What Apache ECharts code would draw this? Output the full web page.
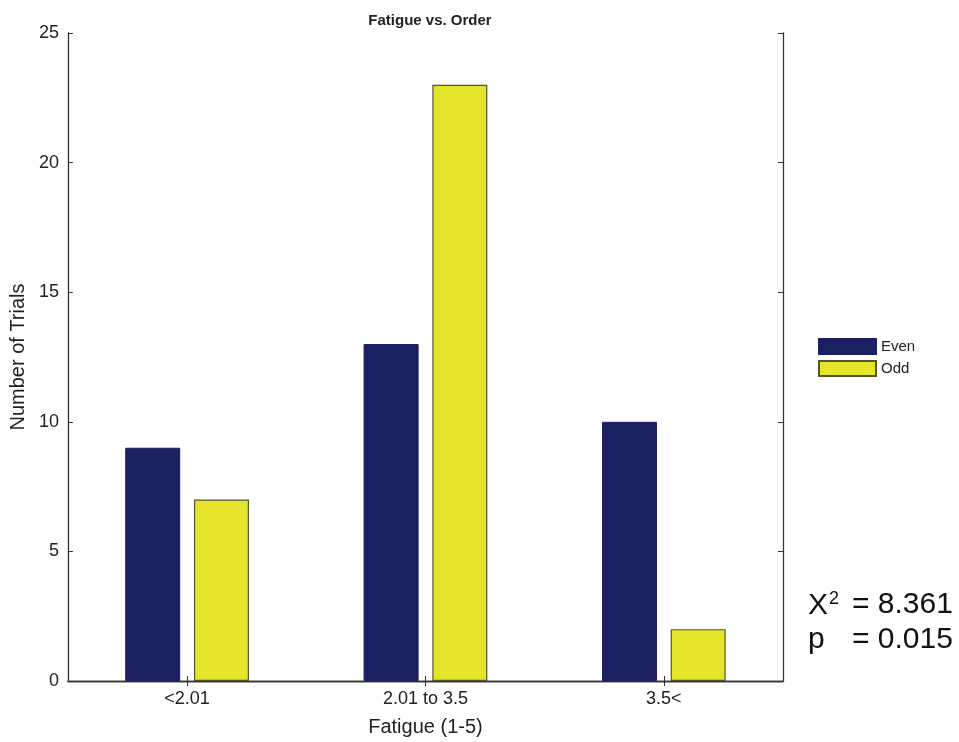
<!DOCTYPE html>
<html>
<head>
<meta charset="utf-8">
<script src="https://cdn.jsdelivr.net/npm/echarts@6/dist/echarts.min.js"></script>
<style>html,body{margin:0;padding:0;background:#fff;}#c{width:959px;height:742px;}</style>
</head>
<body>
<div id="c"></div>
<script>
var categories = ['<2.01', '2.01 to 3.5', '3.5<'];
var evenValues = [9, 13, 10];
var oddValues = [7, 23, 2];
var yTicks = [0, 5, 10, 15, 20, 25];
var seriesNames = ['Even', 'Odd'];
var statLabels = ['X{sup|2}', 'p'];
var statValues = ['= 8.361', '= 0.015'];

var chart = echarts.init(document.getElementById('c'));
var font = 'Liberation Sans, Arial, sans-serif';
var axisLine = {show: true, lineStyle: {color: '#333', width: 1.3}};
var tick = {show: true, inside: true, length: 5, lineStyle: {color: '#333'}};
chart.setOption({
  animation: false,
  title: {text: 'Fatigue vs. Order', left: 425, top: 8, textAlign: 'center',
    textStyle: {fontFamily: font, fontSize: 15, fontWeight: 'bold', color: '#222'}},
  grid: {left: 67, right: 176, top: 33, bottom: 61},
  legend: {data: seriesNames, orient: 'vertical', left: 813, top: 333, itemWidth: 57, itemHeight: 15, itemGap: 5,
    icon: 'rect',
    textStyle: {fontFamily: font, fontSize: 15, color: '#222'}},
  xAxis: [{
    type: 'category', data: categories, position: 'bottom',
    name: 'Fatigue (1-5)', nameLocation: 'middle', nameGap: 36,
    nameTextStyle: {fontFamily: font, fontSize: 20, color: '#222'},
    axisLine: axisLine,
    axisTick: {show: true, inside: true, alignWithLabel: true, length: 5, lineStyle: {color: '#333'}},
    axisLabel: {fontFamily: font, fontSize: 18, color: '#222', margin: 9}
  }, {
    type: 'category', data: categories, position: 'top',
    axisLine: axisLine,
    axisTick: {show: true, inside: true, alignWithLabel: true, length: 5, lineStyle: {color: '#333'}},
    axisLabel: {show: false}
  }],
  yAxis: [{
    type: 'value', min: 0, max: 25, interval: 5, position: 'left',
    name: 'Number of Trials', nameLocation: 'middle', nameGap: 37,
    nameTextStyle: {fontFamily: font, fontSize: 20, color: '#222'},
    axisLine: axisLine,
    axisTick: tick,
    axisLabel: {fontFamily: font, fontSize: 18, color: '#222', margin: 9,
      formatter: function (v) { return yTicks.indexOf(v) >= 0 ? String(v) : ''; }},
    splitLine: {show: false}
  }, {
    type: 'value', min: 0, max: 25, interval: 5, position: 'right',
    axisLine: axisLine,
    axisTick: tick,
    axisLabel: {show: false},
    splitLine: {show: false}
  }],
  series: [{
    name: seriesNames[0], type: 'bar', data: evenValues, barWidth: 55, barGap: '25%',
    itemStyle: {color: '#1b2160', borderColor: '#1b2160', borderWidth: 1}
  }, {
    name: seriesNames[1], type: 'bar', data: oddValues, barWidth: 55, barGap: '25%',
    itemStyle: {color: '#e4e42a', borderColor: '#555533', borderWidth: 1.2}
  }],
  graphic: [{
    type: 'text', left: 808, top: 590,
    style: {text: statLabels[0], font: '30px ' + font, fill: '#111',
      rich: {sup: {fontSize: 18, verticalAlign: 'top', padding: [0, 0, 14, 1], fontFamily: font, fill: '#111'}}}
  }, {
    type: 'text', left: 852, top: 590,
    style: {text: statValues[0], font: '30px ' + font, fill: '#111'}
  }, {
    type: 'text', left: 808, top: 625,
    style: {text: statLabels[1], font: '30px ' + font, fill: '#111'}
  }, {
    type: 'text', left: 852, top: 625,
    style: {text: statValues[1], font: '30px ' + font, fill: '#111'}
  }]
});
</script>
</body>
</html>
